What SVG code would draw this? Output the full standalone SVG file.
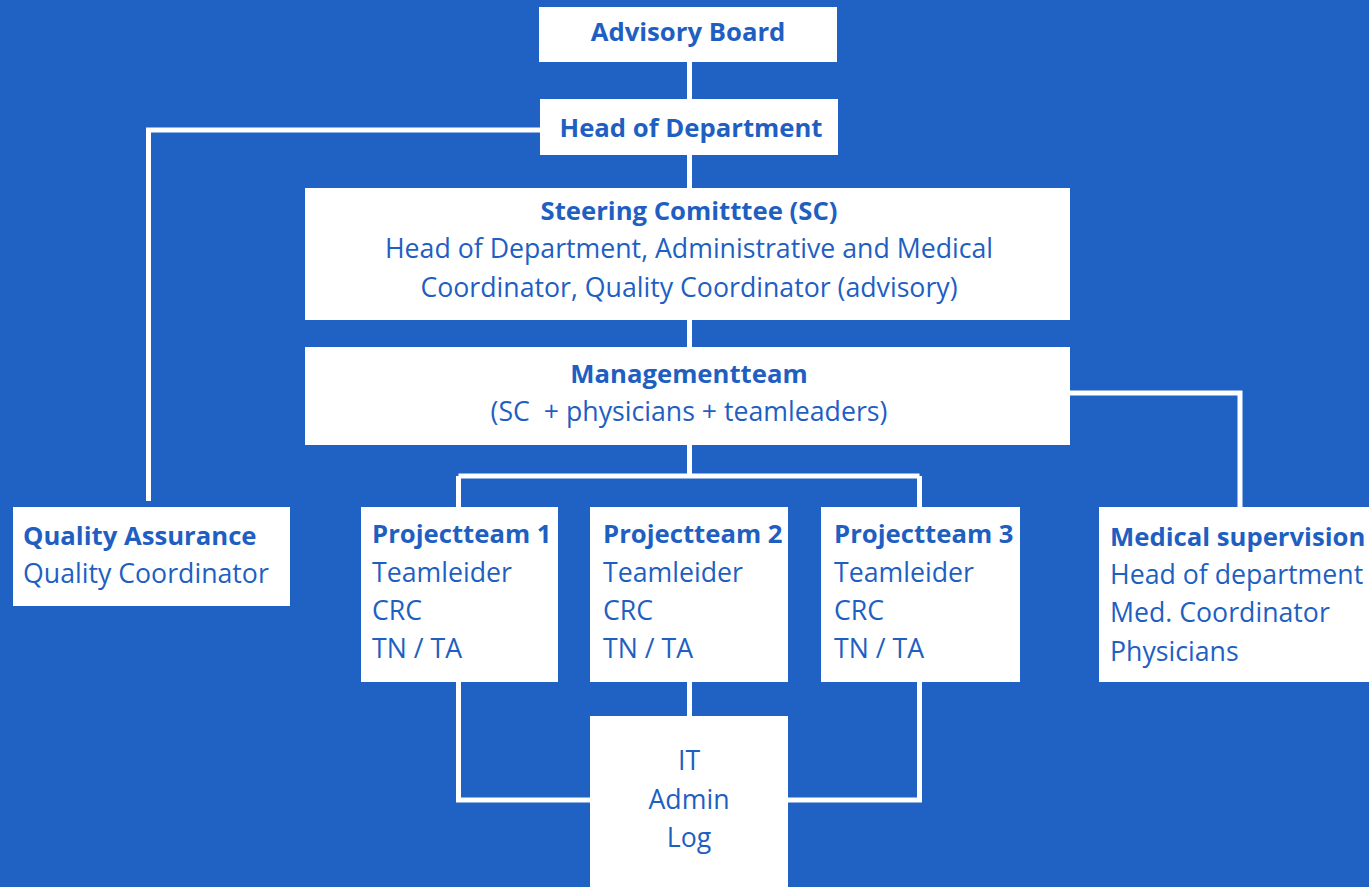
<svg xmlns="http://www.w3.org/2000/svg" width="1369" height="887" viewBox="0 0 1369 887">
<style>
.bx{fill:#ffffff}
.ln{fill:none;stroke:#ffffff;stroke-width:5}
text{font-family:"Open Sans","Noto Sans",sans-serif;font-size:26.7px;fill:#1F5FC2}
.b{font-weight:bold;font-size:25.7px}
.c{text-anchor:middle}
</style>
<rect x="0" y="0" width="1369" height="887" fill="#1F62C4"/>
<g id="connectors">
<path class="ln" d="M689.5 62V99M689.5 155V188M689.5 320V347M689.5 445V476M458.5 476H919.5M458.5 476V507M919.5 476V507"/>
<path class="ln" d="M540 130H148.5V501"/>
<path class="ln" d="M1070 393H1240V507"/>
<path class="ln" d="M689.5 682V716M458.5 682V800H590M919.5 682V800H788"/>
</g>
<g id="advisory"><rect class="bx" x="539" y="7" width="298" height="55"/><text class="b c" x="688" y="41">Advisory Board</text></g>
<g id="head"><rect class="bx" x="540" y="99" width="298" height="56"/><text class="b c" x="691" y="137">Head of Department</text></g>
<g id="steering"><rect class="bx" x="305" y="188" width="765" height="132"/>
<text class="b c" x="689" y="220">Steering Comitttee (SC)</text>
<text class="c" x="689" y="258">Head of Department, Administrative and Medical</text>
<text class="c" x="689" y="297">Coordinator, Quality Coordinator (advisory)</text></g>
<g id="management"><rect class="bx" x="305" y="347" width="765" height="98"/>
<text class="b c" x="689" y="383">Managementteam</text>
<text class="c" x="689" y="421" xml:space="preserve">(SC  + physicians + teamleaders)</text></g>
<g id="quality"><rect class="bx" x="13" y="507" width="277" height="99"/>
<text class="b" x="23" y="545">Quality Assurance</text><text x="23" y="583">Quality Coordinator</text></g>
<g id="pt1"><rect class="bx" x="361" y="507" width="197" height="175"/>
<text class="b" x="372" y="543">Projectteam 1</text><text x="372" y="582">Teamleider</text><text x="372" y="620">CRC</text><text x="372" y="658">TN / TA</text></g>
<g id="pt2"><rect class="bx" x="590" y="507" width="198" height="175"/>
<text class="b" x="603" y="543">Projectteam 2</text><text x="603" y="582">Teamleider</text><text x="603" y="620">CRC</text><text x="603" y="658">TN / TA</text></g>
<g id="pt3"><rect class="bx" x="821" y="507" width="199" height="175"/>
<text class="b" x="834" y="543">Projectteam 3</text><text x="834" y="582">Teamleider</text><text x="834" y="620">CRC</text><text x="834" y="658">TN / TA</text></g>
<g id="medical"><rect class="bx" x="1099" y="507" width="270" height="175"/>
<text class="b" x="1110" y="546">Medical supervision</text><text x="1110" y="584">Head of department</text><text x="1110" y="622">Med. Coordinator</text><text x="1110" y="661">Physicians</text></g>
<g id="support"><rect class="bx" x="590" y="716" width="198" height="171"/>
<text class="c" x="689" y="770">IT</text><text class="c" x="689" y="809">Admin</text><text class="c" x="689" y="847">Log</text></g>
</svg>
